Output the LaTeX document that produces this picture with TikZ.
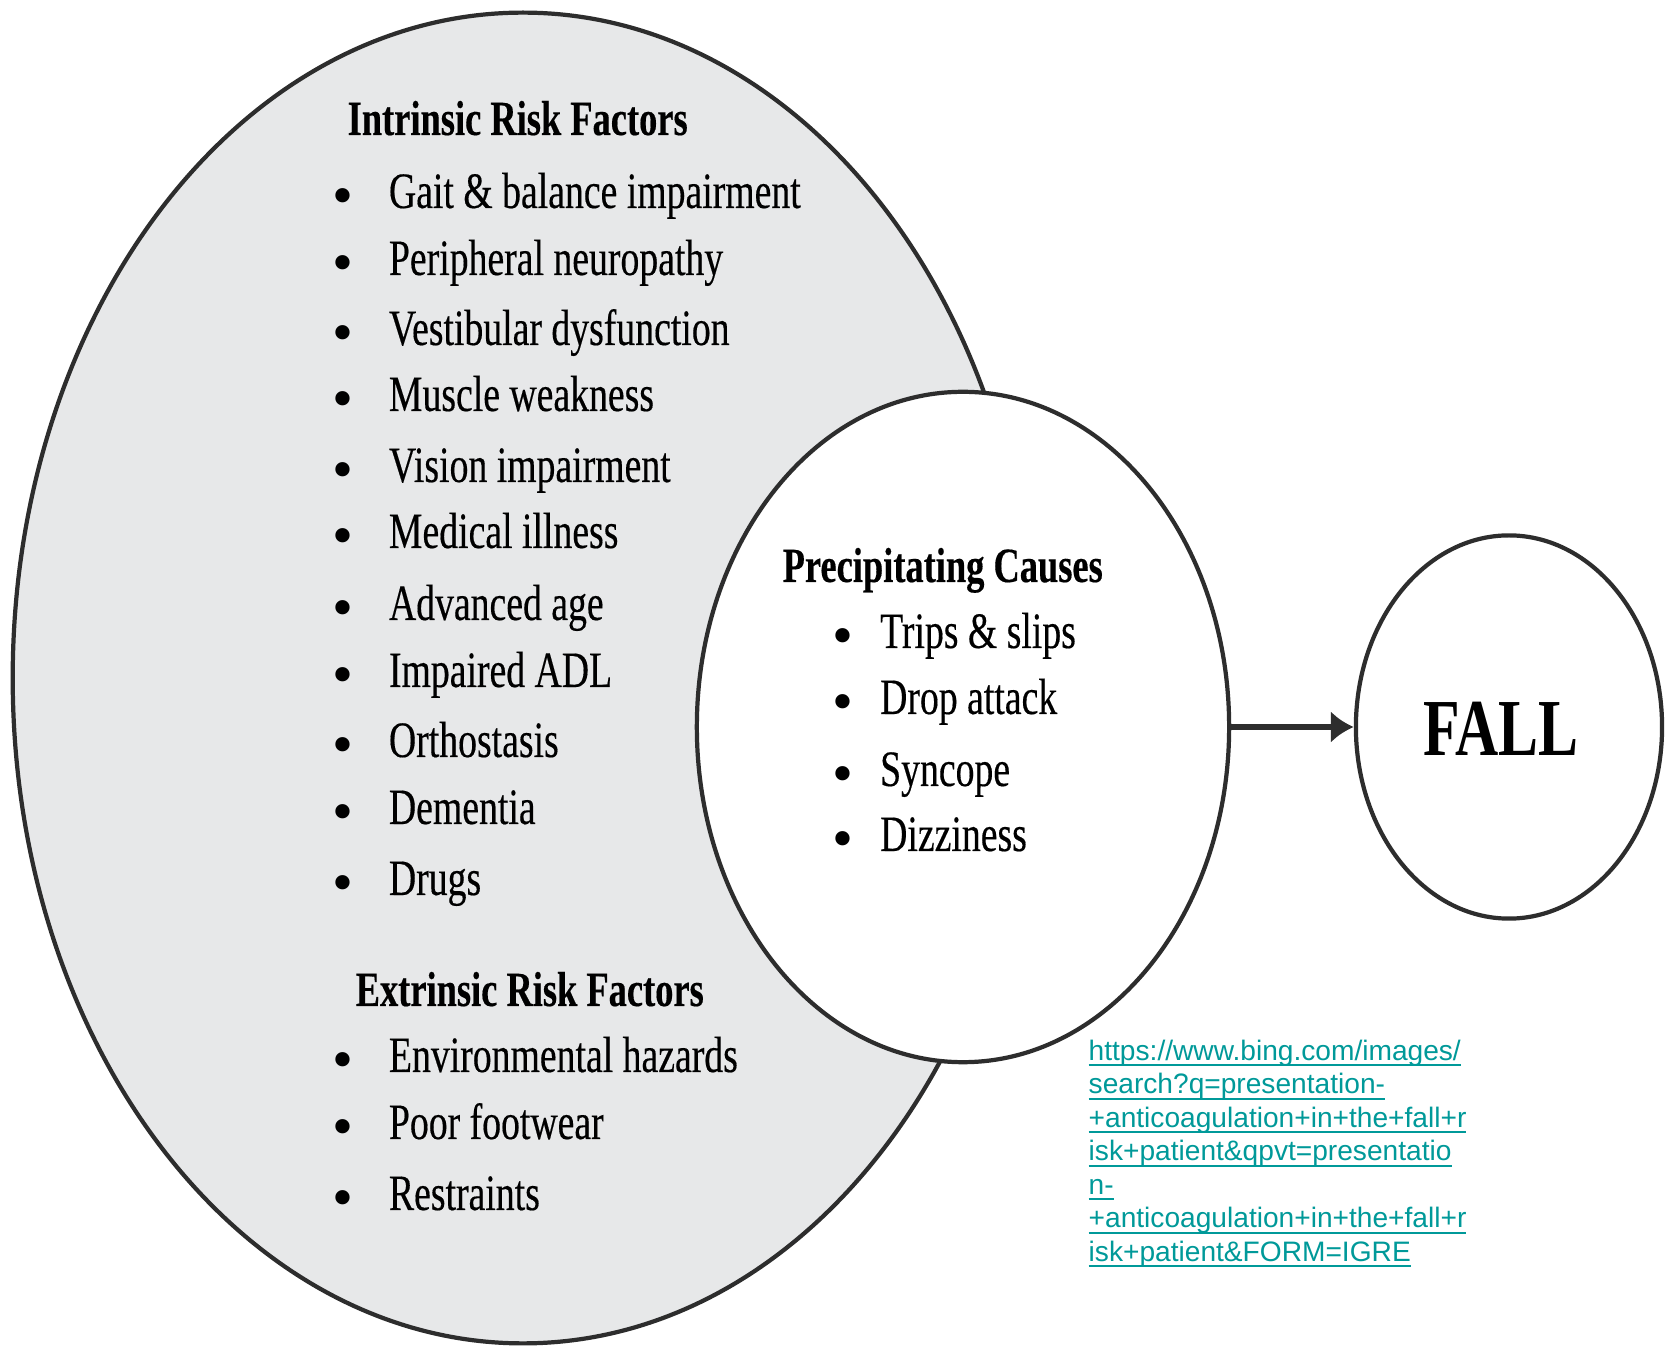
\documentclass[tikz,border=0pt]{standalone}
\usepackage{fontspec}
\usetikzlibrary{shapes.geometric,arrows.meta}
\setmainfont{Liberation Serif}
\newfontfamily\condserif[FakeStretch=0.74,FakeBold=0.3]{Liberation Serif}
\newfontfamily\fallserif[FakeStretch=0.74]{Liberation Serif}
\newfontfamily\linksans{Liberation Sans}
\definecolor{riskgrey}{RGB}{231,232,233}
\definecolor{outline}{RGB}{45,45,45}
\definecolor{linkteal}{RGB}{0,153,153}
\newcommand{\riskbullet}[1][16pt]{\makebox[#1][l]{\raisebox{-2pt}{\normalfont\fontsize{17}{17}\selectfont\textbullet}}}
\newsavebox{\linkbox}
\newcommand{\linkline}[1]{\sbox{\linkbox}{#1}\rlap{\rule[-1.7pt]{\wd\linkbox}{0.55pt}}\usebox{\linkbox}}
\tikzset{bubble/.style={ellipse, draw=outline, line width=1.2pt, inner sep=0pt}}
\tikzset{header/.style={anchor=base west, inner sep=0pt, font=\condserif\fontsize{14}{16}\selectfont\bfseries}}
\tikzset{item/.style={anchor=base west, inner sep=0pt, font=\condserif\fontsize{14.5}{17}\selectfont}}

\begin{document}
\begin{tikzpicture}[x=0.01cm, y=-0.01cm]
  \useasboundingbox (0,0) rectangle (1665,1346);
  %% The three bubbles
  \node[bubble, fill=riskgrey, minimum width=10.2cm, minimum height=13.3cm] (risks) at (523,678) {};
  \node[bubble, fill=white, minimum width=5.32cm, minimum height=6.7cm] (causes) at (963,727) {};
  \node[bubble, fill=white, minimum width=3.06cm, minimum height=3.83cm] (fall) at (1509,727) {};
  \node[inner sep=0pt, font=\fallserif\fontsize{23}{26}\selectfont\bfseries] (falltext) at (1501,729) {FALL};

  \draw[-{Latex[length=6.5pt,width=9pt]}, line width=1.5pt, draw=outline] (causes) -- (fall);

  %% Intrinsic risk factors
  \node[header] (intrinsic) at (347,135) {Intrinsic Risk Factors};
  \node[item] (I1) at (332,208) {\riskbullet Gait \& balance impairment};
  \node[item] (I2) at (332,275) {\riskbullet Peripheral neuropathy};
  \node[item] (I3) at (332,345) {\riskbullet Vestibular dysfunction};
  \node[item] (I4) at (332,411) {\riskbullet Muscle weakness};
  \node[item] (I5) at (332,482) {\riskbullet Vision impairment};
  \node[item] (I6) at (332,548) {\riskbullet Medical illness};
  \node[item] (I7) at (332,620) {\riskbullet Advanced age};
  \node[item] (I8) at (332,687) {\riskbullet Impaired ADL};
  \node[item] (I9) at (332,757) {\riskbullet Orthostasis};
  \node[item] (I10) at (332,824) {\riskbullet Dementia};
  \node[item] (I11) at (332,895) {\riskbullet Drugs};

  %% Extrinsic risk factors
  \node[header] (extrinsic) at (355,1006) {Extrinsic Risk Factors};
  \node[item] (E1) at (332,1072) {\riskbullet Environmental hazards};
  \node[item] (E2) at (332,1139) {\riskbullet Poor footwear};
  \node[item] (E3) at (332,1210) {\riskbullet Restraints};

  %% Precipitating causes
  \node[header] (precipitating) at (782,582) {Precipitating Causes};
  \node[item] (P1) at (832,648) {\riskbullet[13.5pt]Trips \& slips};
  \node[item] (P2) at (832,714) {\riskbullet[13.5pt]Drop attack};
  \node[item] (P3) at (832,786) {\riskbullet[13.5pt]Syncope};
  \node[item] (P4) at (832,851) {\riskbullet[13.5pt]Dizziness};

  %% Source
  \node[anchor=north west, inner sep=0pt, align=left, text=linkteal,
        font=\linksans\fontsize{8}{9.53}\selectfont] (source) at (1088,1039)
    {\linkline{https://www.bing.com/images/}\\
     \linkline{search?q=presentation-}\\
     \linkline{+anticoagulation+in+the+fall+r}\\
     \linkline{isk+patient\&qpvt=presentatio}\\
     \linkline{n-}\\
     \linkline{+anticoagulation+in+the+fall+r}\\
     \linkline{isk+patient\&FORM=IGRE}};
\end{tikzpicture}
\end{document}
